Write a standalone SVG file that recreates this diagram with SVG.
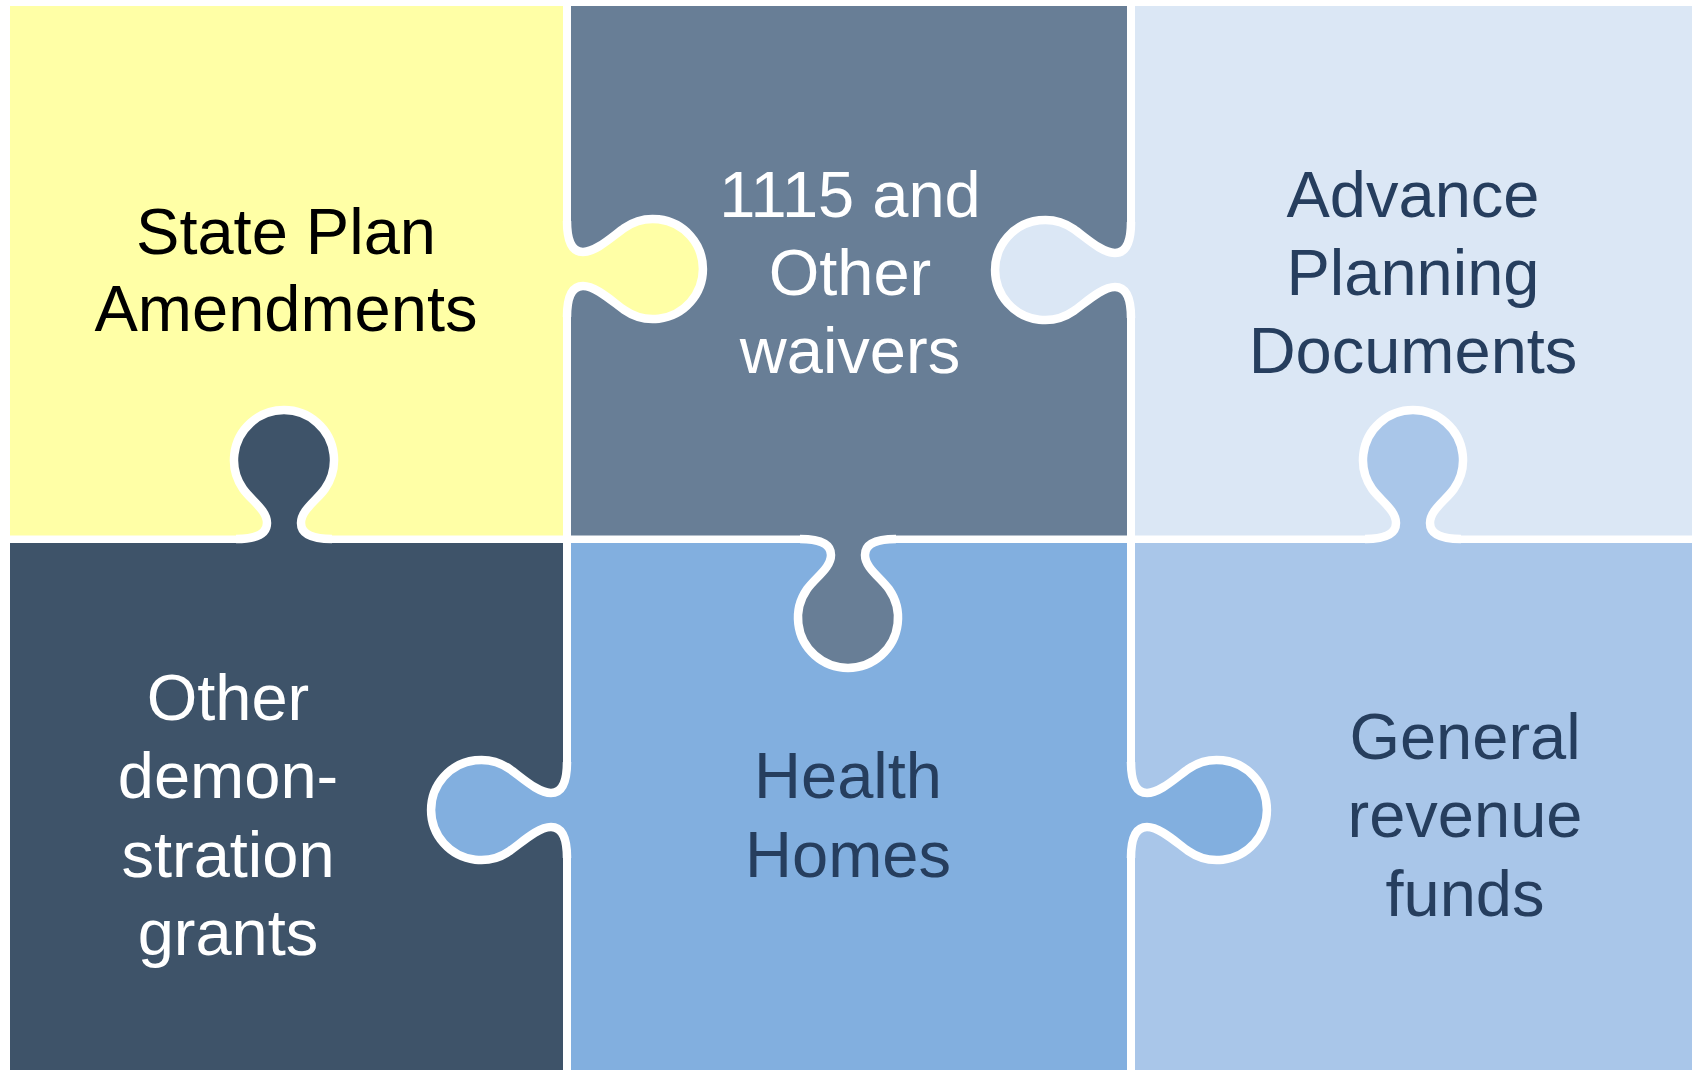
<svg xmlns="http://www.w3.org/2000/svg" xmlns:xlink="http://www.w3.org/1999/xlink" width="1692" height="1070" viewBox="0 0 1692 1070">
<style>
.lbl{font-family:"Liberation Sans",Arial,sans-serif;font-size:65px;text-anchor:middle}
.light{fill:#ffffff}
.dark{fill:#000000}
.navy{fill:#263e5e}
.line{fill:none;stroke:#ffffff;stroke-width:8.5;stroke-linecap:butt;stroke-linejoin:round}
</style>
<defs>
<path id="tabHFill" d="M-6,-48 L0,-48 C0,-30 4,-17 16,-17 C29,-17 45.8,-33 57.3,-41 A50,50 0 1 1 57.3,41 C45.8,33 29,17 16,17 C4,17 0,30 0,48 L-6,48 Z"/>
<path id="tabHLine" d="M0,-48 C0,-30 4,-17 16,-17 C29,-17 45.8,-33 57.3,-41 A50,50 0 1 1 57.3,41 C45.8,33 29,17 16,17 C4,17 0,30 0,48"/>
<path id="tabVFill" d="M-48,6 L-48,0 C-30,0 -17,-4 -17,-16 C-17,-29 -33,-38.8 -41,-50.3 A50,50 0 1 1 41,-50.3 C33,-38.8 17,-29 17,-16 C17,-4 30,0 48,0 L48,6 Z"/>
<path id="tabVLine" d="M-48,0 C-30,0 -17,-4 -17,-16 C-17,-29 -33,-38.8 -41,-50.3 A50,50 0 1 1 41,-50.3 C33,-38.8 17,-29 17,-16 C17,-4 30,0 48,0"/>
</defs>
<rect x="0" y="0" width="1692" height="1070" fill="#ffffff"/>

<g id="state-plan-amendments">
<rect x="10" y="6" width="553" height="529.5" fill="#ffffa6"/>
<text class="lbl dark" x="286" y="254">State Plan</text>
<text class="lbl dark" x="286" y="331">Amendments</text>
</g>

<g id="waivers-1115">
<rect x="571" y="6" width="556" height="529.5" fill="#687e96"/>
<text class="lbl light" x="850" y="217">1115 and</text>
<text class="lbl light" x="850" y="295">Other</text>
<text class="lbl light" x="850" y="373">waivers</text>
</g>

<g id="advance-planning-documents">
<rect x="1135" y="6" width="557" height="529.5" fill="#dbe7f5"/>
<text class="lbl navy" x="1413" y="217">Advance</text>
<text class="lbl navy" x="1413" y="295">Planning</text>
<text class="lbl navy" x="1413" y="373">Documents</text>
</g>

<g id="other-demonstration-grants">
<rect x="10" y="543" width="553" height="527" fill="#3e5369"/>
<text class="lbl light" x="228" y="720">Other</text>
<text class="lbl light" x="228" y="798">demon-</text>
<text class="lbl light" x="228" y="877">stration</text>
<text class="lbl light" x="228" y="955">grants</text>
</g>

<g id="health-homes">
<rect x="571" y="543" width="556" height="527" fill="#82afdf"/>
<text class="lbl navy" x="848" y="798">Health</text>
<text class="lbl navy" x="848" y="877">Homes</text>
</g>

<g id="general-revenue-funds">
<rect x="1135" y="543" width="557" height="527" fill="#a9c6e9"/>
<text class="lbl navy" x="1465" y="759">General</text>
<text class="lbl navy" x="1465" y="837">revenue</text>
<text class="lbl navy" x="1465" y="916">funds</text>
</g>

<g id="connectors">
<g transform="translate(567,269)"><use xlink:href="#tabHFill" fill="#ffffa6"/><use xlink:href="#tabHLine" class="line"/></g>
<g transform="translate(1131,270) rotate(180)"><use xlink:href="#tabHFill" fill="#dbe7f5"/><use xlink:href="#tabHLine" class="line"/></g>
<g transform="translate(284,539)"><use xlink:href="#tabVFill" fill="#3e5369"/><use xlink:href="#tabVLine" class="line"/></g>
<g transform="translate(1413,539)"><use xlink:href="#tabVFill" fill="#a9c6e9"/><use xlink:href="#tabVLine" class="line"/></g>
<g transform="translate(848,539) rotate(180)"><use xlink:href="#tabVFill" fill="#687e96"/><use xlink:href="#tabVLine" class="line"/></g>
<g transform="translate(567,810) rotate(180)"><use xlink:href="#tabHFill" fill="#82afdf"/><use xlink:href="#tabHLine" class="line"/></g>
<g transform="translate(1131,810)"><use xlink:href="#tabHFill" fill="#82afdf"/><use xlink:href="#tabHLine" class="line"/></g>
</g>
</svg>
